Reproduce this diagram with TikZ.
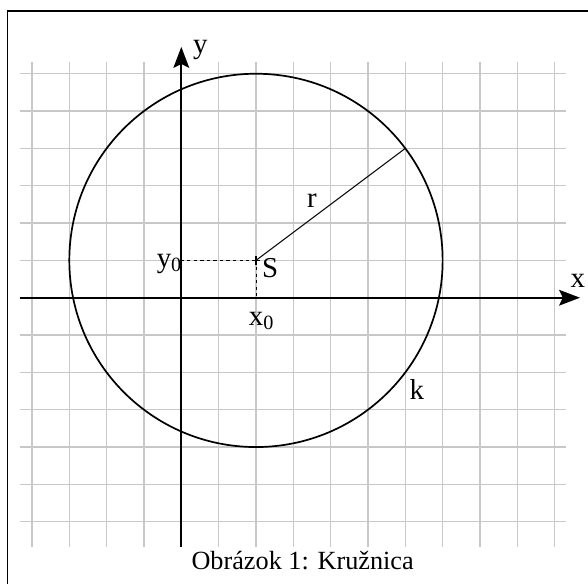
\documentclass[tikz,border=0pt]{standalone}
\usepackage{fontspec}
\setmainfont{Liberation Serif}
\usetikzlibrary{positioning,arrows.meta,calc}
\definecolor{GridGray}{RGB}{200,200,200}

\begin{document}
\begin{tikzpicture}[
  every node/.style={font=\fontsize{22}{26}\selectfont, inner sep=0pt},
  gridline/.style={draw=GridGray, line width=1.1pt},
  axis/.style={-{Stealth[length=5.6mm,width=4.2mm,inset=1mm]}, line width=1.7pt},
  guide/.style={line width=0.7pt, dash pattern=on 2.5pt off 2.5pt},
  circ/.style={line width=1.3pt},
  thin line/.style={line width=0.8pt},
  frameline/.style={line width=1.2pt}
]
\useasboundingbox (-4.857,-7.643) rectangle (10.894,7.975);
\draw[frameline] (-4.66,-7.8) -- (-4.66,7.68) -- (11,7.68);
\draw[gridline] (-4.33,-6.67) grid (10.31,6.32);

\coordinate (O) at (0,0);
\coordinate (S) at (2,1);
\coordinate (P) at (6,4);
\coordinate (xs) at (-4.33,0);
\coordinate (xe) at (10.68,0);
\coordinate (ys) at (0,-6.67);
\coordinate (ye) at (0,6.72);

\draw[axis] (xs) -- (xe);
\draw[axis] (ys) -- (ye);
\draw[circ] (S) circle[radius=5];
\draw[thin line] (S) -- (P);
\draw[guide] (S) -- (S |- O);
\draw[guide] (S) -- (S -| O);
\draw[thin line] ($(S)+(-0.12,0)$) -- ($(S)+(0.12,0)$) ($(S)+(0,-0.12)$) -- ($(S)+(0,0.12)$);

\node (xlab) at (10.62,0.45) {x};
\node (ylab) at (0.51,6.64) {y};
\node (Slab) at (2.38,0.80) {S};
\node (rlab) at (3.50,2.60) {r};
\node (klab) at (6.31,-2.45) {k};
\node (y0lab) at (-0.32,0.9) {y\textsubscript{0}};
\node (x0lab) at (2.15,-0.62) {x\textsubscript{0}};
\node[font=\fontsize{20}{24}\selectfont] (caption) at (3.25,-7.05) {Obrázok 1: Kružnica};
\end{tikzpicture}
\end{document}
